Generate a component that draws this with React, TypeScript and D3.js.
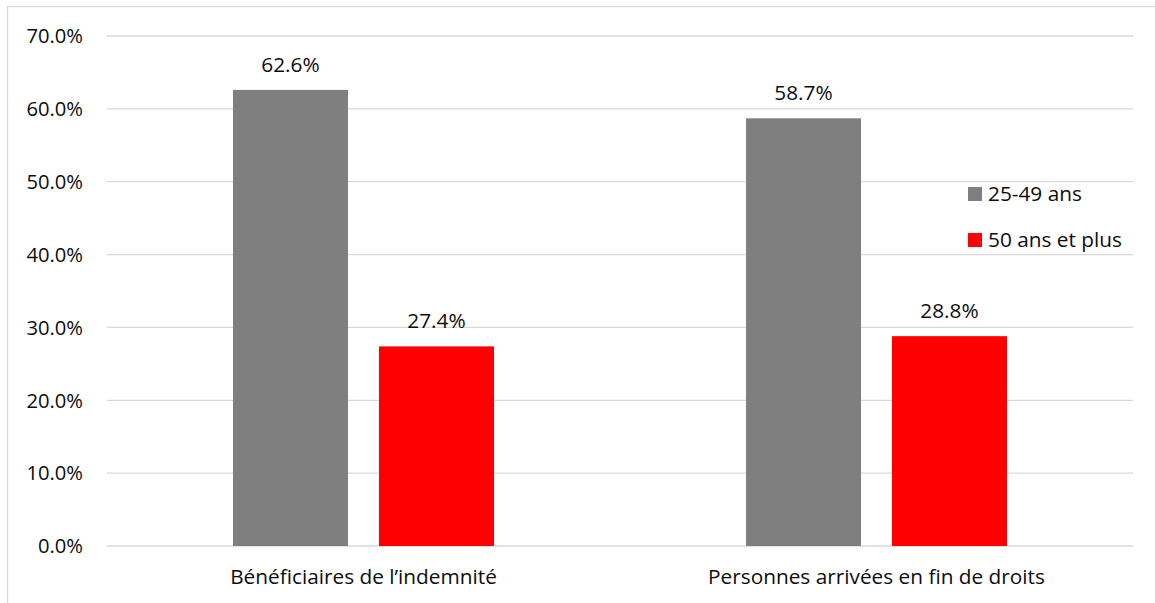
import React, { useEffect, useRef } from "react";
import * as d3 from "d3";

const categories = ["Bénéficiaires de l’indemnité", "Personnes arrivées en fin de droits"];
const seriesNames = ["25-49 ans", "50 ans et plus"];
const values2549 = [62.6, 58.7];
const values50plus = [27.4, 28.8];
const yTicks = [0, 10, 20, 30, 40, 50, 60, 70];
const colors = ["#7f7f7f", "#ff0000"];

const W = 1155;
const H = 603;
const FONT = "'Open Sans', Lato, sans-serif";
const FS = 20.8;

export default function App() {
  const ref = useRef<SVGSVGElement>(null);

  useEffect(() => {
    const svg = d3.select(ref.current);
    svg.selectAll("*").remove();

    const left = 107, right = 1133, top = 36, bottom = 546;

    // chart-area frame
    svg.append("rect")
      .attr("x", 7.5).attr("y", 6.5)
      .attr("width", W + 20).attr("height", H + 20)
      .attr("fill", "white").attr("stroke", "#d9d9d9").attr("stroke-width", 1.3);

    const y = d3.scaleLinear().domain([0, 70]).range([bottom, top]);
    const x0 = d3.scaleBand<string>().domain(categories).range([left, right]).paddingInner(0).paddingOuter(0);
    const seriesBand = d3.scaleBand<string>().domain(seriesNames).range([0, 261]).paddingInner(31 / 146).paddingOuter(0);

    // gridlines + tick labels
    const g = svg.append("g");
    yTicks.forEach((t) => {
      g.append("line")
        .attr("x1", left).attr("x2", right)
        .attr("y1", y(t)).attr("y2", y(t))
        .attr("stroke", "#d9d9d9").attr("stroke-width", t === 0 ? 1.6 : 1.3);
      g.append("text")
        .attr("x", 83).attr("y", y(t))
        .attr("dy", "0.36em")
        .attr("text-anchor", "end")
        .attr("font-family", FONT).attr("font-size", 20.2)
        .attr("fill", "#0d0d0d")
        .text(d3.format(".1f")(t) + "%");
    });

    const data = [values2549, values50plus];
    categories.forEach((c, ci) => {
      const gx = (x0(c) as number) + x0.bandwidth() / 2 - 261 / 2;
      seriesNames.forEach((s, si) => {
        const v = data[si][ci];
        const bx = gx + (seriesBand(s) as number);
        const bw = seriesBand.bandwidth();
        svg.append("rect")
          .attr("x", bx).attr("y", y(v))
          .attr("width", bw).attr("height", y(0) - y(v))
          .attr("fill", colors[si]);
        svg.append("text")
          .attr("x", bx + bw / 2).attr("y", y(v) - 18)
          .attr("text-anchor", "middle")
          .attr("font-family", FONT).attr("font-size", FS)
          .attr("fill", "#0d0d0d")
          .text(d3.format(".1f")(v) + "%");
      });
      svg.append("text")
        .attr("x", (x0(c) as number) + x0.bandwidth() / 2).attr("y", 584)
        .attr("text-anchor", "middle")
        .attr("font-family", FONT).attr("font-size", FS)
        .attr("fill", "#0d0d0d")
        .text(c);
    });

    // legend
    seriesNames.forEach((s, i) => {
      const ly = 187 + i * 46;
      svg.append("rect")
        .attr("x", 968).attr("y", ly)
        .attr("width", 14).attr("height", 14)
        .attr("fill", colors[i]);
      svg.append("text")
        .attr("x", 988).attr("y", ly + 7)
        .attr("dy", "0.36em")
        .attr("font-family", FONT).attr("font-size", FS)
        .attr("fill", "#0d0d0d")
        .text(s);
    });
  }, []);

  return (
    <svg
      ref={ref}
      width={W}
      height={H}
      style={{ position: "absolute", left: 0, top: 0, display: "block", background: "white" }}
    />
  );
}
